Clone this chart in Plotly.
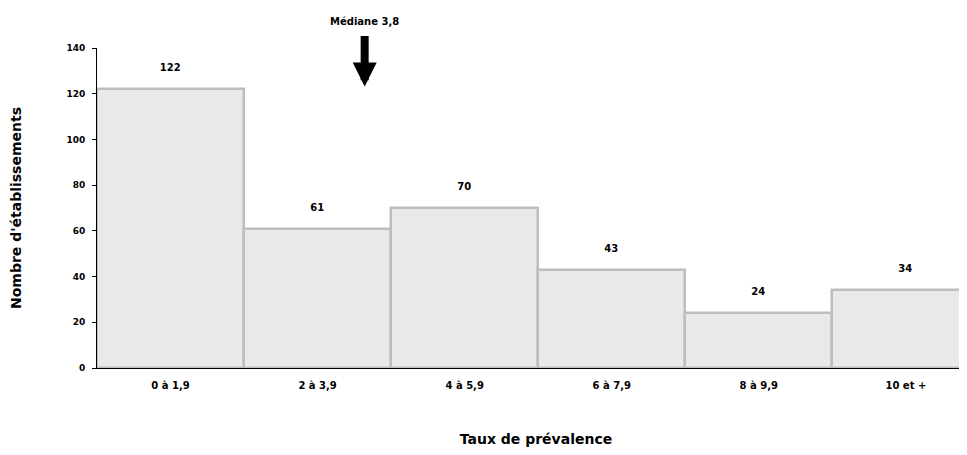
import plotly.graph_objects as go

categories = ["0 à 1,9", "2 à 3,9", "4 à 5,9", "6 à 7,9", "8 à 9,9", "10 et +"]
counts = [122, 61, 70, 43, 24, 34]
ticks = [0, 20, 40, 60, 80, 100, 120, 140]
median_pos = 1.32  # position of "Médiane 3,8" in category units

font = "DejaVu Sans"

fig = go.Figure(
    go.Bar(
        x=list(range(len(categories))),
        y=counts,
        width=1.0,
        marker=dict(color="#e9e9e9", line=dict(color="#bdbdbd", width=2.5)),
        texttemplate="<b>%{y}</b><br> ",
        textposition="outside",
        textfont=dict(family=font, size=10, color="black"),
        cliponaxis=False,
    )
)

fig.add_annotation(
    x=median_pos, y=0.88, xref="x", yref="paper",
    ax=0, ay=-52,
    showarrow=True, arrowhead=2, arrowsize=0.6, arrowwidth=8, arrowcolor="black", text="",
)
fig.add_annotation(
    x=median_pos, y=1.105, xref="x", yref="paper", text="<b>Médiane 3,8</b>",
    showarrow=False, font=dict(family=font, size=10, color="black"),
)

fig.update_layout(
    width=967, height=447,
    margin=dict(l=89, r=0, t=40, b=87),
    plot_bgcolor="white", paper_bgcolor="white",
    showlegend=False,
    bargap=0,
    font=dict(family=font, color="black"),
    xaxis=dict(
        range=[-0.5, 5.47], automargin=False,
        tickvals=list(range(len(categories))), ticktext=[f"<b>{c}</b>" for c in categories],
        tickfont=dict(size=10), showline=True, linecolor="black", linewidth=1,
        ticks="", ticklabelstandoff=8,
        title=dict(text="<b>Taux de prévalence</b>", font=dict(size=14), standoff=44),
        showgrid=False,
    ),
    yaxis=dict(
        range=[0, 140], automargin=False, tickvals=ticks, ticktext=[f"<b>{t}</b>" for t in ticks],
        tickfont=dict(size=9), showline=True, linecolor="black", linewidth=1,
        ticks="outside", ticklen=4, tickcolor="black", showgrid=False, zeroline=False,
        ticklabelstandoff=5,
        title=dict(text="<b>Nombre d'établissements</b>", font=dict(size=14), standoff=52),
    ),
)

fig.write_html("out.html")
